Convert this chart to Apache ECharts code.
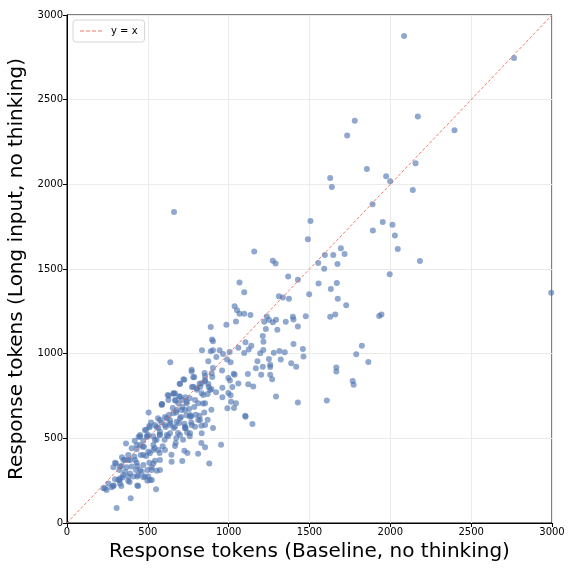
<!DOCTYPE html>
<html lang="en">

<head>
  <meta charset="UTF-8">
  <title>Response tokens scatter</title>
  <style>
    html, body { margin: 0; padding: 0; background: #fff; }
    #chart { width: 576px; height: 576px; }
  </style>
</head>

<body>
  <div id="chart"></div>

  <script src="https://cdn.jsdelivr.net/npm/echarts@6/dist/echarts.min.js"></script>
  <script>
    // baseline tokens (x) and long-input tokens (y)
    const baseX = [
      2085, 2765, 662, 2995, 2170, 1780, 1733, 2397, 1855, 2156, 1628, 1638, 1974, 1999, 2139, 1890, 1506, 1490, 1953, 2013,
      2028, 2046, 1892, 1158, 1694, 1717, 1647, 1595, 1273, 1290, 1554, 1673, 1591, 2183, 1996, 1368, 1428, 1556, 1669, 1632,
      1067, 1096, 1498, 1311, 1335, 1373, 1675, 1727, 1067, 1096, 1135, 1045, 1628, 1659, 1931, 1945, 1477, 1397, 1401, 1236,
      1249, 1220, 1273, 1293, 1353, 1301, 1230, 1428, 1211, 1215, 1104, 1060, 1140, 1124, 1214, 1401, 1459, 1096, 1195, 1279,
      1314, 1347, 1463, 1824, 1789, 1864, 1666, 1666, 1767, 1773, 1249, 1322, 1178, 1387, 1418, 1257, 1257, 1211, 1168, 1119,
      1201, 1257, 1269, 1060, 1121, 1152, 1293, 1428, 1607, 1102,
      1037, 1052, 986, 889, 897, 903, 835, 889, 903, 944, 965, 924, 874, 1012, 990, 1006, 639, 771, 903, 959,
      1031, 1037, 851, 787, 726, 899, 998, 1008, 853, 820, 874, 697, 824, 773, 876, 961, 1023, 804, 893, 922,
      870, 998, 961, 1012, 1015, 1045, 1033, 992, 660, 629, 693, 732, 759, 672, 712, 588, 654, 714, 755, 787,
      841, 849, 893, 796, 820, 769, 738, 705, 676, 631, 606, 563, 520, 584, 639, 693, 726, 769, 831, 903,
      870, 734, 660, 610, 554, 511, 687, 743, 759, 573, 625, 532, 604, 554, 676, 718, 672, 592, 542, 831,
      953, 745, 811, 646, 573, 1105, 1147,
      505, 509, 489, 452, 365, 443, 419, 472, 497, 476, 452, 431, 400, 379, 340, 349, 390, 421, 456, 489,
      503, 509, 472, 435, 400, 369, 338, 303, 287, 324, 359, 390, 427, 462, 497, 503, 472, 435, 379, 344,
      324, 297, 287, 328, 336, 379, 435, 497, 225, 245, 276, 394, 307, 551, 524, 555, 647, 534, 575,
      565, 493, 468, 534, 565, 513, 359, 297, 431, 544, 328, 452, 524, 348, 410, 482, 513, 318, 256, 235,
      771, 781, 854, 720, 699, 781, 833, 658, 699, 627, 668, 843, 812, 854, 586, 740, 678, 730, 761, 823,
      699, 637, 575, 544, 606, 668, 730, 792, 854, 833, 761, 699, 637, 575, 482, 387, 440, 288, 525,
      668, 623, 586, 713, 880, 854, 726, 668, 606, 575, 441, 328, 379, 416, 472, 534, 544, 503, 452, 431,
      575, 617, 637, 678, 730, 771, 812, 761, 709, 658, 617, 689, 740, 792, 833, 885, 802, 854, 895
    ];
    const longY = [
      2876, 2746, 1837, 1360, 2400, 2375, 2288, 2320, 2090, 2125, 2037, 1984, 2047, 2018, 1967, 1882, 1784, 1676, 1778, 1761,
      1698, 1618, 1727, 1604, 1622, 1588, 1582, 1582, 1549, 1533, 1535, 1529, 1502, 1547, 1469, 1455, 1437, 1414, 1418, 1382,
      1421, 1363, 1351, 1339, 1331, 1325, 1325, 1286, 1235, 1235, 1229, 1190, 1218, 1231, 1223, 1231, 1221, 1218, 1202, 1220,
      1200, 1188, 1186, 1200, 1188, 1141, 1145, 1161, 1104, 1070, 1067, 1035, 1047, 1025, 1021, 1057, 1027, 1004, 1002, 1006,
      1016, 1008, 984, 1047, 996, 951, 919, 894, 839, 816, 969, 965, 955, 943, 923, 935, 921, 923, 914, 880,
      876, 876, 849, 824, 819, 806, 747, 712, 723, 633,
      1280, 1256, 1171, 1158, 1083, 1073, 1020, 1014, 1020, 1020, 998, 980, 955, 949, 965, 1010, 949, 905, 915, 900,
      882, 876, 886, 862, 846, 862, 856, 842, 837, 823, 821, 823, 803, 803, 803, 799, 803, 787, 791, 772,
      762, 768, 742, 754, 716, 707, 679, 677, 764, 752, 748, 742, 736, 722, 728, 703, 679, 685, 673, 685,
      705, 653, 669, 640, 634, 630, 636, 626, 653, 640, 626, 618, 594, 594, 590, 590, 586, 594, 575, 561,
      610, 561, 561, 567, 567, 565, 531, 535, 512, 522, 512, 512, 492, 492, 502, 492, 473, 453, 443, 472,
      462, 413, 409, 403, 413, 628, 585,
      652, 573, 549, 520, 470, 510, 486, 486, 510, 451, 461, 435, 441, 402, 388, 372, 372, 372, 402, 396,
      421, 356, 343, 337, 333, 329, 337, 352, 329, 313, 303, 293, 313, 303, 313, 274, 270, 274, 274, 268,
      254, 258, 218, 234, 218, 250, 222, 250, 205, 195, 211, 146, 89, 199, 329, 309, 362, 352, 313,
      561, 514, 451, 461, 431, 412, 372, 356, 356, 368, 333, 313, 313, 283, 274, 274, 254, 254, 234, 205,
      894, 860, 868, 849, 821, 805, 825, 766, 746, 726, 726, 756, 707, 707, 697, 707, 667, 667, 628, 608,
      618, 608, 608, 579, 579, 569, 559, 569, 579, 530, 530, 520, 530, 520, 549, 242, 218, 221, 254,
      766, 756, 701, 366, 352, 447, 427, 455, 431, 372, 283, 264, 372, 392, 402, 431, 490, 520, 510, 461,
      539, 520, 579, 598, 569, 579, 608, 638, 667, 648, 618, 707, 716, 726, 766, 786, 796, 845, 884
    ];
    const axisTicks = [0, 500, 1000, 1500, 2000, 2500, 3000];
    const refLine = [0, 3000];

    const points = baseX.map((x, i) => [x, longY[i]]);

    const chart = echarts.init(document.getElementById('chart'), null, { renderer: 'canvas' });

    const font = 'DejaVu Sans';
    const axisCommon = {
      type: 'value',
      min: axisTicks[0],
      max: axisTicks[axisTicks.length - 1],
      interval: axisTicks[1] - axisTicks[0],
      nameLocation: 'middle',
      nameTextStyle: { fontFamily: font, fontSize: 20, color: '#000' },
      axisLine: { show: true, onZero: false, lineStyle: { color: '#000', width: 1 } },
      axisTick: { show: true, inside: false, length: 4, lineStyle: { color: '#000', width: 1 } },
      axisLabel: {
        fontFamily: font, fontSize: 10, color: '#000', margin: 4,
        formatter: v => String(v)   // no thousands separator
      },
      splitLine: { show: true, lineStyle: { color: '#ebebeb', width: 1 } }
    };

    // dashed legend swatch
    const dashIcon = 'path://M0,0h4v1h-4z M6,0h4v1h-4z M12,0h4v1h-4z M18,0h4v1h-4z';

    const option = {
      animation: false,
      backgroundColor: '#fff',
      grid: {
        left: 67, right: 24, top: 15, bottom: 53,
        outerBoundsMode: 'none',
        containLabel: false,
        show: true, borderColor: '#000', borderWidth: 1, backgroundColor: 'transparent'
      },
      legend: {
        left: 73, top: 20,
        padding: [6, 7],
        itemWidth: 22, itemHeight: 1.2, itemGap: 6,
        backgroundColor: '#fff',
        borderColor: '#d6d6d6', borderWidth: 1, borderRadius: 3,
        textStyle: { fontFamily: font, fontSize: 10, color: '#000', padding: [0, 0, 0, 4] },
        data: [{ name: 'y = x', icon: dashIcon, itemStyle: { color: '#f0624d', opacity: 0.85 } }]
      },
      xAxis: Object.assign({}, axisCommon, {
        name: 'Response tokens (Baseline, no thinking)',
        nameGap: 19
      }),
      yAxis: Object.assign({}, axisCommon, {
        name: 'Response tokens (Long input, no thinking)',
        nameGap: 37
      }),
      series: [
        {
          name: 'points',
          type: 'scatter',
          data: points,
          symbolSize: 6,
          itemStyle: { color: '#4c72b0', opacity: 0.62 },
          z: 2
        },
        {
          name: 'y = x',
          type: 'line',
          data: [[refLine[0], refLine[0]], [refLine[1], refLine[1]]],
          symbol: 'none',
          lineStyle: { color: '#f0624d', width: 1, type: [3, 2], opacity: 0.85 },
          itemStyle: { color: '#f0624d' },
          z: 3
        }
      ]
    };
    chart.setOption(option);
  </script>
</body>

</html>
